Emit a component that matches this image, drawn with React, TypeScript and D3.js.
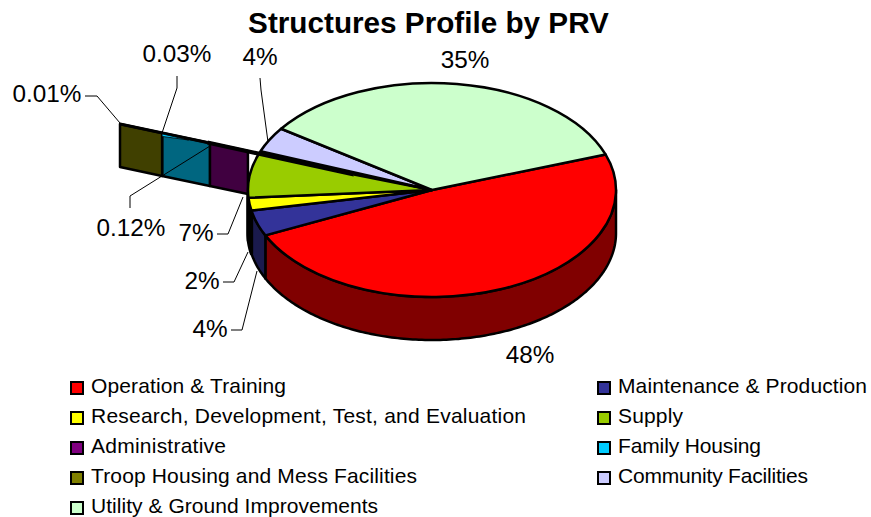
import React from "react";
import * as d3 from "d3";

const title = "Structures Profile by PRV";
const categories = [
  "Operation & Training",
  "Maintenance & Production",
  "Research, Development, Test, and Evaluation",
  "Supply",
  "Administrative",
  "Family Housing",
  "Troop Housing and Mess Facilities",
  "Community Facilities",
  "Utility & Ground Improvements",
];
const values = [48.4, 3.9, 1.9, 6.9, 0.12, 0.03, 0.01, 3.8, 34.9];
const valueLabels = ["48%", "4%", "2%", "7%", "0.12%", "0.03%", "0.01%", "4%", "35%"];
const colors = ["#ff0000", "#333399", "#ffff00", "#99cc00", "#800080", "#00ccff", "#808000", "#ccccff", "#ccffcc"];

const width = 871;
const height = 517;
const font = "'Liberation Sans', Arial, sans-serif";

// pie geometry
const cx = 432;
const cy = 190;
const rx = 184;
const ry = 107;
const depth = 43;
const rotation = (70.6 * Math.PI) / 180;

// the three tiny slices come out as a long strip going left from the centre
const spokeTip = { x: 120, y: 124 };
const stripIndexes = [4, 5, 6];
const stripStops = [0.59, 0.712, 0.865, 1];

// label anchor + leader polyline, same order as categories
const labelLayout = [
  { x: 530, y: 363, leader: [] },
  { x: 210, y: 337, leader: [[231, 330], [242, 330], [257, 271]] },
  { x: 202, y: 289, leader: [[223, 282], [234, 282], [248, 252]] },
  { x: 196, y: 241, leader: [[217, 234], [228, 234], [243, 197]] },
  { x: 131, y: 236, leader: [[130, 208], [130, 196], [210, 146]] },
  { x: 177, y: 62, leader: [[177, 76], [177, 88], [162, 133]] },
  { x: 47, y: 102, leader: [[85, 96], [97, 96], [120, 123]] },
  { x: 260, y: 65, leader: [[260, 78], [261, 90], [268, 142]] },
  { x: 465, y: 68, leader: [] },
];

// [column x, row, text width] for each legend entry
const legendLayout = [
  [70, 0, 195], [597, 0, 249], [70, 1, 435], [597, 1, 65], [70, 2, 135],
  [597, 2, 143], [70, 3, 326], [597, 3, 190], [70, 4, 287],
];

const pie = d3.pie<number>().sort(null).startAngle(rotation).endAngle(rotation + 2 * Math.PI);
const slices = pie(values);
const arc = d3.arc<d3.PieArcDatum<number>>().innerRadius(0).outerRadius(rx);
const spokeX = d3.scaleLinear().domain([0, 1]).range([cx, spokeTip.x]);
const spokeY = d3.scaleLinear().domain([0, 1]).range([cy, spokeTip.y]);
const line = d3.line();

const dark = (c: string) => {
  const k = d3.rgb(c);
  return d3.rgb(k.r / 2, k.g / 2, k.b / 2).formatHex();
};

function wallPath(a0: number, a1: number) {
  const n = Math.max(2, Math.ceil((a1 - a0) * 60));
  const angles = d3.range(n + 1).map((i) => a0 + ((a1 - a0) * i) / n);
  const top = angles.map((a) => [cx + rx * Math.sin(a), cy - ry * Math.cos(a)] as [number, number]);
  const bottom = top.map(([x, y]) => [x, y + depth] as [number, number]).reverse();
  return line([...top, ...bottom]) + "Z";
}

export default function App() {
  const walls = slices
    .map((s, i) => ({ i, a0: Math.max(s.startAngle, Math.PI / 2), a1: Math.min(s.endAngle, 1.5 * Math.PI) }))
    .filter((w) => w.a1 > w.a0);

  return (
    <svg
      width={width}
      height={height}
      viewBox={`0 0 ${width} ${height}`}
      style={{ position: "absolute", left: 0, top: 0, background: "#fff", fontFamily: font }}
    >
      <text x={428.5} y={33} textAnchor="middle" fontSize={29.7} fontWeight="bold" fill="#000">
        {title}
      </text>

      {/* walls too narrow to show a colour end up solid black in the original */}
      {walls.map((w) => {
        const narrow = w.a1 - w.a0 < 0.15;
        return (
          <path
            key={w.i}
            d={wallPath(w.a0, w.a1)}
            fill={narrow ? "#000" : dark(colors[w.i])}
            stroke="#000"
            strokeWidth={narrow ? 3.5 : 2.5}
            strokeLinejoin="round"
          />
        );
      })}

      {stripIndexes.map((idx, k) => {
        const p = (t: number) => [spokeX(t), spokeY(t)] as [number, number];
        const [a, b] = [p(stripStops[k]), p(stripStops[k + 1])];
        const d = line([a, b, [b[0], b[1] + depth], [a[0], a[1] + depth]]) + "Z";
        return <path key={idx} d={d} fill={dark(colors[idx])} stroke="#000" strokeWidth={2.5} strokeLinejoin="round" />;
      })}

      <g transform={`translate(${cx},${cy}) scale(1,${ry / rx})`}>
        {slices.map((s, i) =>
          stripIndexes.includes(i) ? null : (
            <path
              key={i}
              d={arc(s) as string}
              fill={colors[i]}
              stroke="#000"
              strokeWidth={2.5}
              strokeLinejoin="round"
              vectorEffect="non-scaling-stroke"
            />
          )
        )}
      </g>

      {/* top edge of the strip, runs back to the pie centre */}
      <line x1={spokeX(1)} y1={spokeY(1)} x2={spokeX(0.72)} y2={spokeY(0.72)} stroke="#000" strokeWidth={3} />
      <line x1={spokeX(0.72)} y1={spokeY(0.72)} x2={spokeX(0.25)} y2={spokeY(0.25) + 1} stroke="#000" strokeWidth={4} />
      <line x1={spokeX(0.25)} y1={spokeY(0.25) + 1} x2={cx} y2={cy} stroke="#000" strokeWidth={2.5} />
      <path
        d={
          line([
            [spokeX(stripStops[2]), spokeY(stripStops[2]) + 1],
            [spokeX(0.78), spokeY(0.78) + 1.5],
            [spokeX(stripStops[2]), spokeY(stripStops[2]) + 3.5],
          ]) + "Z"
        }
        fill={colors[5]}
        stroke="#000"
        strokeWidth={0.8}
      />

      {labelLayout.map((l, i) => (
        <g key={i}>
          {l.leader.length > 0 && (
            <path d={line(l.leader as [number, number][]) as string} fill="none" stroke="#000" strokeWidth={1} />
          )}
          <text x={l.x} y={l.y} textAnchor="middle" fontSize={24.3} fill="#000">
            {valueLabels[i]}
          </text>
        </g>
      ))}

      {categories.map((c, i) => {
        const [x, row, w] = legendLayout[i];
        const y = 387 + row * 30;
        return (
          <g key={c}>
            <rect x={x + 1} y={y - 5} width={12} height={12} fill={colors[i]} stroke="#000" strokeWidth={2} />
            <text x={x + 21} y={y + 6} fontSize={21} textLength={w} lengthAdjust="spacing" fill="#000">
              {c}
            </text>
          </g>
        );
      })}
    </svg>
  );
}
